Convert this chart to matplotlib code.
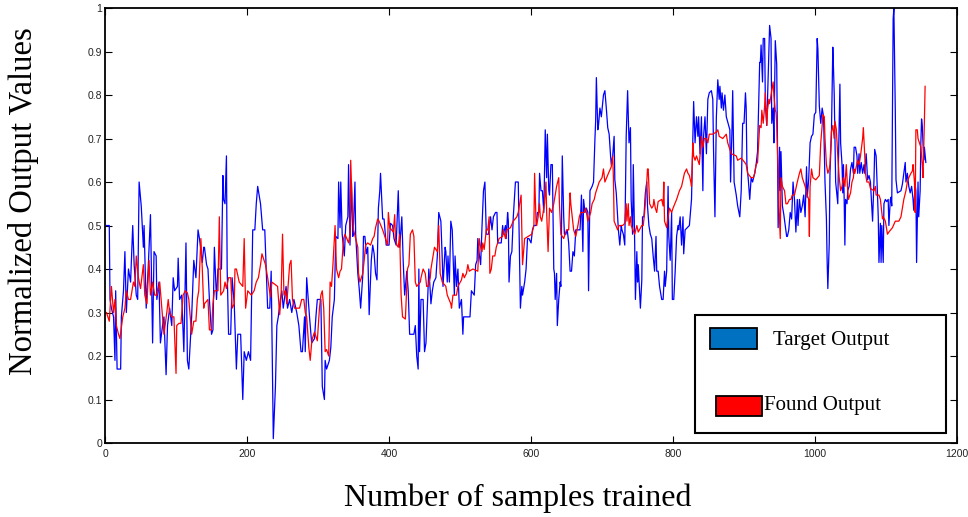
import matplotlib
matplotlib.use("Agg")
import matplotlib.pyplot as plt
from matplotlib.patches import Rectangle

# values (sample index, normalized output)
target_x = [2, 6, 7, 9, 12, 14, 15, 17, 22, 23, 26, 28, 30, 33, 36, 39, 41, 44, 46, 48,
            51, 54, 55, 58, 61, 64, 67, 69, 72, 73, 76, 78, 81, 83, 86, 88, 91, 94, 96, 98,
            102, 103, 105, 108, 111, 114, 116, 118, 122, 125, 128, 131, 133, 137, 139,
            140, 143, 145, 147, 150, 152, 154, 157, 159, 164, 166, 167, 169, 171, 172, 174,
            177, 179, 182, 185, 187, 191, 194, 196, 199, 202, 205, 208, 211, 213, 215, 219,
            222, 225, 227, 229, 232, 234, 237, 240, 242, 244, 247, 249, 251, 255, 257, 260,
            263, 266, 270, 273, 276, 278, 281, 282, 284,
            288, 291, 295, 297, 299, 304, 306, 309, 310, 312, 316, 318, 320, 323, 325, 328,
            329, 331, 332, 334, 337, 339, 342, 343, 345, 347, 349, 350, 352, 353, 356, 358,
            360, 363, 364, 366, 368, 370, 372, 375, 377, 379, 381, 383, 385, 387, 388, 391,
            393, 396, 400, 402, 405, 407, 410, 413, 415, 418, 420, 422, 425, 427, 429,
            435, 437, 439, 441, 442, 443, 445, 448, 450, 452, 456, 458, 459, 461, 463, 466,
            468, 470, 473, 475, 476, 479, 480, 482, 483, 485, 487, 489, 490, 492, 493, 495,
            497, 499, 502, 504, 505, 514, 516, 520, 522, 524, 525, 527, 529, 531, 533, 535,
            537, 540, 543, 545, 547, 550, 552, 553, 558, 560, 561, 564, 565, 567, 568, 569,
            571, 573, 575, 578, 582,
            584, 585, 587, 588, 591, 593, 595, 597, 600, 602, 604, 607, 609, 611, 612, 614,
            616, 618, 620, 622, 623, 625, 626, 628, 630, 632, 633, 634, 636, 637, 639, 641,
            642, 644, 646, 647, 649, 651, 653, 655, 657, 659, 661, 663, 669, 670, 671, 673,
            674, 676, 678, 680, 681, 683, 686, 688, 690, 691, 692, 694, 695, 697, 699, 702,
            704, 706, 708, 710, 712, 713, 715, 717, 718, 720, 723, 725, 727, 728,
            730, 732, 734, 736, 738, 740, 741, 743, 744, 746, 747, 749, 750, 751, 753, 754,
            756, 757, 759, 761, 763, 764, 766, 768, 770, 772, 774, 776, 777, 779, 781, 784,
            786, 788, 789, 791, 793, 794, 796, 798, 799, 801, 803, 805, 807, 808, 810, 812,
            814, 815, 817, 823, 826, 828, 829, 831, 833, 835, 836, 838, 840, 842, 843, 845,
            847, 849, 851, 854, 856, 857, 859, 861, 863, 865, 866, 868, 869, 871, 873, 875,
            880, 881, 883, 884, 886, 889, 891, 894, 896, 898, 900, 902, 903, 904, 906, 908,
            910, 912, 915, 917, 919, 922, 923, 924, 926, 927, 929, 930, 932, 936, 938, 939,
            941, 942, 944, 946, 947, 948, 950, 951, 952, 954, 956, 958, 960, 961, 963, 965,
            967, 969, 971, 973, 975, 976, 978, 980, 982, 984, 986, 988, 989, 991, 993, 995,
            997, 999, 1001, 1003, 1004, 1006, 1008, 1010, 1012, 1013, 1014, 1016, 1017, 1018,
            1020, 1021, 1023,
            1025, 1026, 1027, 1029, 1032, 1033, 1035, 1036, 1038, 1039, 1040, 1041, 1042, 1043,
            1045, 1046, 1048, 1050, 1052, 1054, 1055, 1057, 1059, 1060, 1062, 1063, 1065, 1067,
            1069, 1070, 1072, 1074, 1076, 1078, 1081, 1083, 1084, 1086, 1087, 1089, 1090, 1092,
            1093, 1094, 1096, 1097, 1099, 1101, 1103, 1104, 1106, 1107, 1108, 1110, 1111, 1113,
            1114, 1116, 1121, 1123, 1125, 1127, 1128, 1130, 1132, 1134, 1136, 1138, 1139, 1141,
            1142, 1143, 1145, 1146, 1148, 1149, 1150, 1151, 1153, 1154, 1156]
target_y = [.50, .50, .33, .31, .29, .19, .35, .17, .17, .29, .35, .44, .30, .40, .37, .50, .41, .34, .33, .60,
            .545, .45, .50, .31, .41, .525, .23, .44, .43, .33, .37, .23, .27, .29, .157, .27, .31, .27, .38, .35,
            .36, .425, .33, .34, .21, .46, .19, .17, .29, .42, .38, .49, .47, .415, .45,
            .45, .41, .40, .33, .25, .26, .45, .33, .40, .40, .615, .56, .55, .66, .40, .25,
            .25, .38, .32, .17, .25, .25, .10, .21, .19, .21, .19, .49, .49, .55, .59, .55,
            .49, .49, .40, .31, .31, .395, .01, .13, .27, .29, .33, .35, .31, .36, .31, .33,
            .30, .33, .30, .27, .21, .21, .29, .21, .38,
            .29, .23, .24, .29, .33, .33, .13, .10, .19, .17, .19, .22, .29, .33, .475, .47,
            .60, .495, .60, .48, .43, .50, .52, .64, .455, .60, .475, .505, .60, .48, .39, .355,
            .31, .385, .475, .475, .435, .45, .295, .42, .455, .435, .39, .375, .54, .58, .62, .515,
            .515, .455, .455, .505, .50, .47, .455, .58, .45, .52, .415, .34, .395, .35, .25,
            .25, .27, .20, .17, .40, .21, .33, .33, .21, .23, .40, .35, .32, .35, .37, .38,
            .43, .53, .51, .42, .36, .45, .44, .37, .43, .37, .51, .49, .44, .34, .43, .36,
            .40, .31, .33, .25, .29, .29, .35, .34, .41, .42, .47, .435, .41, .50, .58, .60,
            .48, .48, .52, .49, .52, .53, .53, .46, .46, .50, .48, .50, .47, .53, .51, .37,
            .43, .44, .52, .60, .60,
            .41, .31, .36, .34, .37, .40, .47, .47, .46, .49, .50, .50, .53, .53, .62, .58,
            .58, .53, .72, .61, .71, .58, .57, .64, .64, .40, .39, .33, .39, .27, .33, .37,
            .36, .66, .52, .48, .48, .49, .46, .395, .395, .44, .43, .49, .49, .53, .57, .44,
            .56, .53, .54, .53, .35, .58, .59, .60, .70, .74, .84, .72, .73, .77, .75, .80,
            .81, .77, .725, .71, .66, .64, .66, .705, .605, .575, .49, .455, .50, .49,
            .48, .455, .705, .81, .69, .725, .56, .48, .64, .455, .33, .44, .37, .41, .345, .31,
            .375, .52, .52, .575, .60, .545, .50, .48, .47, .43, .395, .475, .395, .395, .36, .33,
            .33, .395, .36, .395, .59, .475, .42, .53, .33, .33, .395, .475, .50, .49, .52, .455,
            .52, .435, .49, .50, .56, .705, .785, .69, .75, .705, .75, .665, .75, .58, .705, .75,
            .665, .79, .805, .81, .79, .675, .52, .75, .835, .79, .82, .77, .805, .765, .80, .75,
            .72, .60, .72, .81, .60, .57, .545, .52, .58, .735, .735, .805, .77, .64, .605, .56,
            .61, .60, .62, .64, .67, .875, .875, .915, .83, .93, .93, .78, .73, .96, .93, .735,
            .77, .69, .925, .87, .70, .495, .68, .58, .67, .545, .525, .50, .475, .475, .49, .53,
            .515, .60, .56, .485, .56, .50, .56, .53, .545, .57, .52, .635, .565, .605, .69, .705,
            .71, .755, .76, .93, .905, .775, .735, .77, .75, .675, .60, .515, .42, .355,
            .46, .62, .705,
            .91, .86, .80, .60, .55, .65, .825, .69, .64, .575, .64, .56, .455, .56,
            .55, .58, .59, .63, .645, .62, .68, .68, .66, .62, .665, .62, .645, .62,
            .64, .62, .665, .605, .615, .60, .51, .605, .675, .66, .615, .52, .415, .505,
            .415, .50, .415, .55, .56, .555, .56, .50, .56, .565, .545, .975, 1.0, .765,
            .605, .575, .58, .595, .62, .645, .60, .62, .59, .575, .59, .56, .535, .595,
            .58, .415, .60, .52, .58, .69, .745, .73, .65, .68, .645]

found_x = [2, 6, 9, 12, 14, 16, 19, 21, 25, 28, 30, 33, 36, 40, 42, 44, 47, 50, 54, 56,
           59, 62, 64, 67, 70, 73, 77, 80, 83, 87, 89, 91, 94, 97, 100, 101, 104, 107, 110, 113,
           116, 118, 122, 125, 128, 130, 132, 135, 137, 139,
           140, 145, 147, 150, 152, 154, 159, 161, 163, 167, 169, 171, 174, 177, 179, 182,
           183, 185, 189, 194, 196, 198, 201, 206, 210, 213, 216, 219, 221, 224, 226, 229,
           233, 235, 239, 243, 246, 248, 250, 252, 254, 256, 260, 262, 264, 267, 274, 277,
           280, 282, 284,
           287, 289, 291, 292, 295, 297, 299, 302, 304, 306, 308, 310, 312, 315, 317, 319,
           321, 324, 326, 329, 331, 333, 336, 338, 343, 345, 346, 348, 350, 353, 356, 357,
           359, 363, 365, 367, 370, 374, 377, 379, 381, 384, 386, 391, 393, 395, 398, 399,
           401, 406, 408, 409, 411, 413, 415, 417, 419, 423, 426, 428, 430, 433,
           435, 437, 439, 444, 445, 448, 451, 453, 455, 458, 459, 462, 464, 468, 470, 472,
           475, 480, 482, 487, 488, 490, 495, 497, 502, 504, 506, 509, 511, 513, 518, 525,
           527, 529, 531, 532, 534, 537, 539, 541, 542, 544, 546, 549, 551, 553, 555, 560,
           561, 564, 566, 571, 575, 580, 582, 585,
           586, 588, 591, 596, 601, 604, 605, 607, 608, 610, 612, 613, 615, 618, 619, 621,
           622, 624, 626, 629, 632, 634, 636, 639, 640, 642, 646, 650, 653, 655, 656, 658,
           660, 663, 666, 668, 670, 675, 677, 680, 682, 684, 686, 689, 691, 694, 696, 700,
           702, 704, 709, 713, 715, 716, 717, 722, 724, 729,
           732, 734, 735, 737, 738, 740, 741, 746, 749, 751, 756, 758, 760, 763, 764, 765,
           767, 770, 772, 773, 775, 777, 779, 784, 786, 787, 788, 791, 793, 795, 798, 800,
           805, 809, 812, 814, 816, 819, 821, 823, 825, 826, 828, 829, 831, 833, 837, 840,
           842, 844, 847, 849, 851, 856, 861, 863, 865, 870, 875, 877,
           880, 882, 889, 891, 896, 901, 903, 905, 910, 913, 915, 917, 919, 922, 924, 925,
           927, 929, 930, 932, 933, 935, 936, 938, 941, 942, 944, 945, 946, 948, 949, 951,
           952, 954, 957, 959, 961, 964, 966, 968, 971, 973, 975, 978, 980, 982, 985, 987,
           989, 991, 992, 993, 995, 997, 1001, 1006, 1008, 1010, 1011, 1013, 1014, 1016, 1018,
           1020, 1021, 1023,
           1025, 1027, 1028, 1030, 1032, 1034, 1036, 1038, 1040, 1042, 1044, 1046, 1047, 1050,
           1052, 1054, 1055, 1056, 1060, 1062, 1064, 1067, 1068, 1070, 1071, 1073, 1076, 1078,
           1083, 1085, 1086, 1090, 1092, 1095, 1096, 1099, 1102, 1104, 1109, 1113, 1118, 1121,
           1123, 1125, 1128, 1130, 1132, 1135, 1137, 1138, 1140, 1141, 1142, 1144, 1145, 1147,
           1149, 1151, 1152, 1154, 1155]
found_y = [.30, .28, .36, .30, .33, .27, .25, .24, .29, .31, .35, .33, .33, .37, .36, .43, .38, .355, .41, .34,
           .32, .42, .34, .37, .34, .34, .37, .31, .25, .30, .33, .30, .29, .29, .16, .27, .275, .275, .34, .35,
           .345, .33, .25, .28, .28, .33, .35, .47, .40, .31,
           .32, .33, .26, .26, .32, .35, .35, .52, .34, .35, .37, .355, .38, .38, .31, .32,
           .40, .40, .37, .36, .47, .31, .35, .34, .35, .37, .38, .41, .435, .42, .41, .38,
           .335, .37, .365, .36, .295, .34, .48, .34, .35, .32, .41, .42, .33, .31, .31, .33,
           .33, .30, .29,
           .22, .19, .23, .24, .255, .245, .235, .31, .34, .35, .31, .21, .215, .20, .37, .36,
           .41, .50, .40, .38, .395, .40, .47, .48, .46, .48, .65, .55, .49, .47, .45, .39,
           .37, .39, .42, .455, .46, .455, .47, .475, .495, .515, .51, .49, .48, .47, .455, .53,
           .495, .485, .525, .47, .455, .45, .48, .34, .29, .285, .40, .41, .48, .49,
           .475, .37, .36, .37, .38, .40, .39, .36, .36, .38, .40, .43, .45, .44, .50, .39,
           .37, .36, .34, .32, .31, .34, .34, .36, .375, .39, .38, .39, .41, .395, .40, .395,
           .47, .45, .44, .46, .445, .49, .49, .52, .39, .40, .43, .43, .45, .46, .47, .475,
           .49, .47, .49, .495, .51, .52, .53, .56,
           .57, .41, .47, .475, .48, .50, .62, .51, .50, .52, .55, .52, .51, .54, .55, .60,
           .53, .44, .54, .53, .55, .57, .59, .61, .55, .48, .47, .49, .49, .575, .55, .52,
           .49, .475, .50, .52, .53, .53, .54, .51, .52, .53, .55, .56, .575, .59, .60, .61,
           .63, .60, .62, .635, .66, .61, .51, .49, .50, .50,
           .505, .55, .51, .55, .50, .52, .50, .48, .50, .485, .50, .50, .53, .60, .63, .63,
           .55, .54, .545, .56, .54, .53, .555, .56, .545, .60, .51, .495, .52, .54, .53, .54,
           .56, .58, .59, .605, .62, .63, .62, .615, .60, .59, .69, .66, .65, .66, .64, .705,
           .68, .70, .70, .69, .71, .71, .715, .72, .705, .70, .71, .69,
           .675, .665, .66, .65, .655, .645, .64, .62, .61, .61, .62, .64, .645, .73, .725, .765,
           .735, .775, .805, .73, .765, .79, .78, .80, .83, .80, .765, .76, .735, .62, .55, .47,
           .61, .59, .58, .55, .55, .56, .56, .57, .57, .585, .60, .62, .63, .61, .595, .585,
           .57, .56, .475, .59, .63, .61, .605, .615, .69, .73, .755, .75, .70, .64, .62,
           .63, .64, .715,
           .73, .70, .74, .72, .66, .61, .58, .59, .61, .59, .64, .58, .56, .575,
           .60, .61, .63, .62, .65, .64, .66, .70, .725, .66, .62, .60, .60, .585,
           .58, .59, .57, .57, .56, .515, .52, .51, .48, .485, .495, .51, .51, .52,
           .54, .56, .58, .60, .61, .62, .625, .64, .60, .53, .72, .72, .70, .69,
           .68, .64, .61, .74, .82]

y_ticks = [0, 0.1, 0.2, 0.3, 0.4, 0.5, 0.6, 0.7, 0.8, 0.9, 1]
y_tick_labels = ['0', '0.1', '0.2', '0.3', '0.4', '0.5', '0.6', '0.7', '0.8', '0.9', '1']
x_ticks = [0, 200, 400, 600, 800, 1000, 1200]


def main():
    fig = plt.figure(figsize=(9.68, 5.17), dpi=100)
    ax = fig.add_axes([0.1085, 0.1431, 0.8802, 0.8414])

    ax.plot(target_x, target_y, color='#0000ff', lw=0.9)
    ax.plot(found_x, found_y, color='#ff0000', lw=0.9)

    ax.set_xlim(0, 1200)
    ax.set_ylim(0, 1)
    ax.set_xticks(x_ticks)
    ax.set_yticks(y_ticks)
    ax.set_yticklabels(y_tick_labels)
    ax.tick_params(direction='in', top=True, right=True, length=5, width=0.8,
                   labelsize=7.5, labelcolor='#222222')
    ax.tick_params(axis='x', pad=4)
    ax.tick_params(axis='y', pad=2)
    for lab in ax.get_xticklabels() + ax.get_yticklabels():
        lab.set_family('Liberation Sans')
    for s in ax.spines.values():
        s.set_linewidth(1.3)

    # legend drawn by hand, boxed like the original
    serif = 'Liberation Serif'
    ax.add_patch(Rectangle((0.6925, 0.023), 0.2946, 0.2713, transform=ax.transAxes,
                           facecolor='white', edgecolor='black', lw=1.5, zorder=5))
    ax.add_patch(Rectangle((0.7101, 0.2161), 0.0552, 0.0483, transform=ax.transAxes,
                           facecolor='#0070c0', edgecolor='black', lw=1.3, zorder=6))
    ax.add_patch(Rectangle((0.7171, 0.062), 0.054, 0.046, transform=ax.transAxes,
                           facecolor='#ff0000', edgecolor='black', lw=1.3, zorder=6))
    ax.text(0.784, 0.2253, 'Target Output', transform=ax.transAxes, family=serif,
            fontsize=15, va='baseline', ha='left', zorder=7)
    ax.text(0.7735, 0.0759, 'Found Output', transform=ax.transAxes, family=serif,
            fontsize=15, va='baseline', ha='left', zorder=7)

    fig.text(0.535, 0.0368, 'Number of samples trained', family=serif,
             fontsize=23, ha='center', va='center')
    fig.text(0.0238, 0.611, 'Normalized Output Values', family=serif,
             fontsize=23.5, ha='center', va='center', rotation=90)

    fig.savefig('out.png', dpi=100)


if __name__ == "__main__":
    main()
